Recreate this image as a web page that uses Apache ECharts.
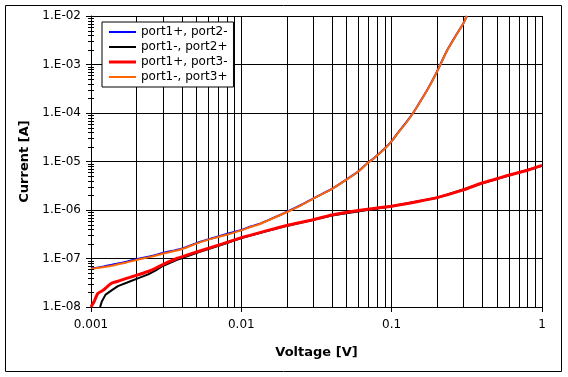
<!DOCTYPE html>
<html>
<head>
<meta charset="utf-8">
<script src="https://cdn.jsdelivr.net/npm/echarts@6/dist/echarts.min.js"></script>
<style>
html,body{margin:0;padding:0;background:#fff;}
#chart{width:568px;height:377px;}
</style>
</head>
<body>
<div id="chart"></div>
<script>
// ---- data ----
const seriesNames = ['port1+, port2-', 'port1-, port2+', 'port1+, port3-', 'port1-, port3+'];

const vBlue = [0.001,0.0012,0.0014,0.0017,0.002,0.0025,0.003,0.004,0.0053,0.0065,0.008,0.01,0.0114,0.013,0.016,0.02,0.025,0.03,0.04,0.0528,0.06,0.07,0.076,0.0903,0.1,0.111,0.125,0.139,0.151,0.175,0.2,0.233,0.271,0.3,0.316];
const iBlue = [6.2e-8,6.8e-8,7.5e-8,8.5e-8,9.7e-8,1.12e-7,1.3e-7,1.6e-7,2.2e-7,2.65e-7,3.2e-7,3.9e-7,4.5e-7,5.1e-7,6.7e-7,9.1e-7,1.27e-6,1.72e-6,2.72e-6,4.75e-6,6.25e-6,9.6e-6,1.16e-5,1.87e-5,2.62e-5,4.05e-5,6.4e-5,1.01e-4,1.52e-4,3.25e-4,7.1e-4,1.92e-3,4.25e-3,7.1e-3,1.0e-2];

const vBlack = [0.00115,0.00118,0.0012,0.00125,0.00137,0.00151,0.00174,0.00205,0.0024,0.0027,0.003,0.0037,0.0053,0.0075,0.01,0.02,0.04,0.1,0.2,0.4,1.0];
const iBlack = [1.0e-8,1.3e-8,1.4e-8,1.8e-8,2.2e-8,2.7e-8,3.2e-8,3.9e-8,4.7e-8,5.7e-8,7.0e-8,9.3e-8,1.38e-7,1.95e-7,2.65e-7,4.7e-7,7.7e-7,1.19e-6,1.78e-6,3.55e-6,8.2e-6];

const vRed = [0.001,0.00105,0.00111,0.0012,0.00137,0.00151,0.00168,0.00196,0.0024,0.00266,0.00303,0.00372,0.0053,0.0075,0.01,0.0114,0.015,0.02,0.03,0.04,0.06,0.08,0.1,0.15,0.2,0.3,0.4,0.5,0.6,0.8,1.0];
const iRed = [1.0e-8,1.3e-8,1.9e-8,2.2e-8,3.1e-8,3.4e-8,3.8e-8,4.4e-8,5.4e-8,6.2e-8,7.6e-8,1.0e-7,1.43e-7,2.0e-7,2.7e-7,3.0e-7,3.8e-7,4.8e-7,6.3e-7,7.9e-7,9.8e-7,1.1e-6,1.2e-6,1.5e-6,1.8e-6,2.6e-6,3.6e-6,4.4e-6,5.2e-6,6.6e-6,8.3e-6];

const vOrange = [0.001,0.0012,0.0014,0.0017,0.002,0.0025,0.003,0.004,0.0053,0.0065,0.008,0.01,0.0114,0.013,0.016,0.02,0.025,0.03,0.04,0.0528,0.06,0.07,0.076,0.0903,0.1,0.111,0.125,0.139,0.151,0.175,0.2,0.233,0.271,0.3,0.316];
const iOrange = [6.1e-8,6.6e-8,7.2e-8,8.2e-8,9.3e-8,1.08e-7,1.25e-7,1.55e-7,2.15e-7,2.6e-7,3.1e-7,3.8e-7,4.4e-7,5.0e-7,6.6e-7,9.0e-7,1.25e-6,1.7e-6,2.7e-6,4.7e-6,6.2e-6,9.5e-6,1.15e-5,1.85e-5,2.6e-5,4.0e-5,6.3e-5,1.0e-4,1.5e-4,3.2e-4,7.0e-4,1.9e-3,4.2e-3,7.0e-3,1.0e-2];

const xTickLabels = ['0.001','0.01','0.1','1'];
const yTickLabels = ['1.E-08','1.E-07','1.E-06','1.E-05','1.E-04','1.E-03','1.E-02'];
const xMin = 0.001, xMax = 1, yMin = 1e-8, yMax = 1e-2;

// ---- build ----
const pairs = (xs, ys) => xs.map((x, i) => [x, ys[i]]);
const minorX = [];
for (let e = -3; e < 0; e++) for (let m = 2; m <= 9; m++) minorX.push([m * Math.pow(10, e), yMin]);
const minorY = [];
for (let e = -8; e < -2; e++) for (let m = 2; m <= 9; m++) minorY.push([xMin, m * Math.pow(10, e)]);

const crisp = v => Math.round(v) + 0.5;
const font = 'DejaVu Sans';
const thinIcon = 'path://M0,0H27V2H0Z';
const thickIcon = 'path://M0,0H27V3H0Z';

const chart = echarts.init(document.getElementById('chart'), null, {renderer: 'canvas'});
chart.setOption({
  animation: false,
  backgroundColor: '#fff',
  graphic: [{
    type: 'rect', shape: {x: 5.5, y: 5.5, width: 556, height: 366},
    style: {fill: 'none', stroke: '#000', lineWidth: 1}, z: 0, silent: true
  }],
  grid: {left: 91, right: 26, top: 16, bottom: 70, containLabel: false},
  legend: {
    data: [
      {name: seriesNames[0], icon: thinIcon},
      {name: seriesNames[1], icon: thinIcon},
      {name: seriesNames[2], icon: thickIcon},
      {name: seriesNames[3], icon: thinIcon}
    ],
    symbolKeepAspect: true,
    orient: 'vertical',
    left: 102, top: 22,
    padding: [3, 6, 3, 7],
    itemWidth: 27, itemHeight: 14, itemGap: 1,
    backgroundColor: '#fff', borderColor: '#000', borderWidth: 1, borderRadius: 0,
    textStyle: {fontFamily: font, fontSize: 12, color: '#000', lineHeight: 14},
    selectedMode: false
  },
  xAxis: {
    type: 'log', logBase: 10, min: xMin, max: xMax, splitNumber: 3,
    name: 'Voltage [V]', nameLocation: 'middle', nameGap: 39,
    nameTextStyle: {fontFamily: font, fontSize: 13, fontWeight: 'bold', color: '#000'},
    axisLine: {show: true, lineStyle: {color: '#000', width: 1}},
    axisTick: {show: true, length: 5, lineStyle: {color: '#000'}},
    axisLabel: {fontFamily: font, fontSize: 12, color: '#000', margin: 12,
      formatter: v => xTickLabels[Math.round(Math.log10(v)) + 3]},
    splitLine: {show: true, lineStyle: {color: '#000', width: 1}}
  },
  yAxis: {
    type: 'log', logBase: 10, min: yMin, max: yMax, splitNumber: 6,
    name: 'Current [A]', nameLocation: 'middle', nameGap: 60,
    nameTextStyle: {fontFamily: font, fontSize: 13, fontWeight: 'bold', color: '#000'},
    axisLine: {show: true, lineStyle: {color: '#000', width: 1}},
    axisTick: {show: true, length: 5, lineStyle: {color: '#000'}},
    axisLabel: {fontFamily: font, fontSize: 12, color: '#000', margin: 10,
      formatter: v => yTickLabels[Math.round(Math.log10(v)) + 8]},
    splitLine: {show: true, lineStyle: {color: '#000', width: 1}}
  },
  series: [
    {
      type: 'custom', name: 'minorX', silent: true, z: 1,
      data: minorX,
      renderItem: (params, api) => {
        const v = api.value(0);
        const b = api.coord([v, yMin]);
        const t = api.coord([v, yMax]);
        const x = crisp(b[0]);
        return {type: 'line', shape: {x1: x, y1: t[1], x2: x, y2: b[1]},
          style: {stroke: '#000', lineWidth: 1}};
      }
    },
    {
      type: 'custom', name: 'minorY', silent: true, z: 3, clip: false,
      data: minorY,
      renderItem: (params, api) => {
        const p = api.coord([api.value(0), api.value(1)]);
        const y = crisp(p[1]);
        return {type: 'line', shape: {x1: p[0] - 3, y1: y, x2: p[0] + 3, y2: y},
          style: {stroke: '#000', lineWidth: 1}};
      }
    },
    {name: seriesNames[0], type: 'line', data: pairs(vBlue, iBlue), symbol: 'none', z: 2, smooth: 0.2,
      lineStyle: {color: '#0000ff', width: 2}, itemStyle: {color: '#0000ff'}},
    {name: seriesNames[1], type: 'line', data: pairs(vBlack, iBlack), symbol: 'none', z: 2,
      lineStyle: {color: '#000000', width: 2}, itemStyle: {color: '#000000'}},
    {name: seriesNames[2], type: 'line', data: pairs(vRed, iRed), symbol: 'none', z: 2, smooth: 0.2,
      lineStyle: {color: '#ff0000', width: 3}, itemStyle: {color: '#ff0000'}},
    {name: seriesNames[3], type: 'line', data: pairs(vOrange, iOrange), symbol: 'none', z: 2, smooth: 0.2,
      lineStyle: {color: '#ff6600', width: 2}, itemStyle: {color: '#ff6600'}}
  ]
});
</script>
</body>
</html>
